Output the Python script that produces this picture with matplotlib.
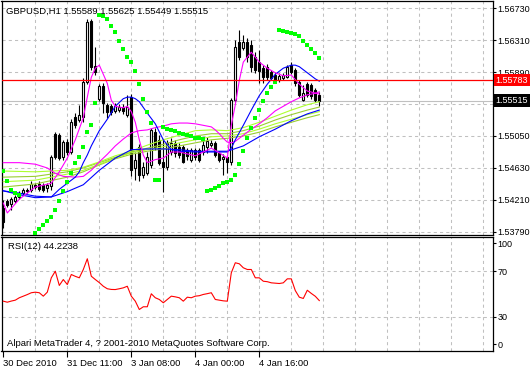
import matplotlib
matplotlib.use("Agg")
import matplotlib.pyplot as plt
import matplotlib.transforms as mtransforms
import numpy as np

plt.rcParams["font.family"] = ["Liberation Sans", "DejaVu Sans"]

# GBPUSD H1 bars, oldest first
opens = [1.54105, 1.54197, 1.54157, 1.54197, 1.54249, 1.54302, 1.54341, 1.54341, 1.54407, 1.54420,
         1.54407, 1.54368, 1.54394, 1.55076, 1.55063, 1.54774, 1.54971, 1.54840, 1.55299, 1.55260,
         1.55299, 1.55759, 1.56559, 1.55969, 1.55536, 1.55706, 1.55457, 1.55444, 1.55378, 1.55391,
         1.55431, 1.55326, 1.55562, 1.54630, 1.54906, 1.54538, 1.54564, 1.54669, 1.55103, 1.54998,
         1.54709, 1.54643, 1.54840, 1.54958, 1.54906, 1.54906, 1.54866, 1.54735, 1.54866, 1.54866,
         1.54840, 1.54906, 1.54932, 1.54958, 1.54827, 1.54748, 1.54774, 1.54709, 1.55523, 1.56284,
         1.56205, 1.56284, 1.56244, 1.56087, 1.56021, 1.55943, 1.55956, 1.55890, 1.55851, 1.55785,
         1.55811, 1.55824, 1.55982, 1.55916, 1.55759, 1.55523, 1.55732, 1.55719, 1.55654, 1.55589]
highs = [1.54210, 1.54223, 1.54249, 1.54276, 1.54328, 1.54368, 1.54368, 1.54459, 1.54433, 1.54459,
         1.54433, 1.54433, 1.54801, 1.55103, 1.55089, 1.54998, 1.55011, 1.55273, 1.55352, 1.55457,
         1.55811, 1.56586, 1.56586, 1.56218, 1.55732, 1.55746, 1.55483, 1.55470, 1.55483, 1.55470,
         1.55470, 1.55588, 1.55601, 1.54840, 1.54945, 1.54709, 1.54840, 1.55155, 1.55155, 1.55063,
         1.54998, 1.54998, 1.55024, 1.54998, 1.54958, 1.54932, 1.54892, 1.54892, 1.54892, 1.54892,
         1.54998, 1.55037, 1.54998, 1.54984, 1.54853, 1.54814, 1.54801, 1.55549, 1.56310, 1.56441,
         1.56376, 1.56336, 1.56310, 1.56153, 1.56179, 1.55982, 1.55995, 1.55916, 1.55890, 1.55877,
         1.55877, 1.55982, 1.56021, 1.55943, 1.55785, 1.55719, 1.55759, 1.55746, 1.55680, 1.55625]
lows = [1.53842, 1.54118, 1.54079, 1.54171, 1.54223, 1.54276, 1.54302, 1.54315, 1.54354, 1.54328,
        1.54315, 1.54315, 1.54341, 1.54748, 1.54735, 1.54735, 1.54801, 1.54814, 1.55155, 1.55234,
        1.55234, 1.55732, 1.55916, 1.55851, 1.55509, 1.55352, 1.55286, 1.55326, 1.55352, 1.55365,
        1.55339, 1.55299, 1.54525, 1.54472, 1.54459, 1.54499, 1.54538, 1.54630, 1.54866, 1.54669,
        1.54315, 1.54604, 1.54801, 1.54774, 1.54761, 1.54696, 1.54735, 1.54709, 1.54735, 1.54709,
        1.54801, 1.54827, 1.54906, 1.54774, 1.54709, 1.54538, 1.54564, 1.54669, 1.55496, 1.56048,
        1.56179, 1.56021, 1.55890, 1.55877, 1.55746, 1.55746, 1.55785, 1.55785, 1.55759, 1.55759,
        1.55785, 1.55811, 1.55864, 1.55706, 1.55562, 1.55509, 1.55562, 1.55536, 1.55496, 1.55449]
closes = [1.53921, 1.54144, 1.54223, 1.54249, 1.54302, 1.54341, 1.54328, 1.54420, 1.54381, 1.54354,
          1.54341, 1.54407, 1.54774, 1.54774, 1.54761, 1.54971, 1.54840, 1.55234, 1.55194, 1.55326,
          1.55759, 1.56546, 1.55956, 1.55890, 1.55706, 1.55483, 1.55365, 1.55365, 1.55444, 1.55431,
          1.55378, 1.55431, 1.54604, 1.54735, 1.54538, 1.54643, 1.54774, 1.55129, 1.54906, 1.54696,
          1.54643, 1.54958, 1.54958, 1.54827, 1.54801, 1.54709, 1.54788, 1.54866, 1.54774, 1.54735,
          1.54932, 1.54984, 1.54958, 1.54801, 1.54735, 1.54774, 1.54709, 1.55523, 1.56218, 1.56087,
          1.56284, 1.56087, 1.55956, 1.55916, 1.55903, 1.55824, 1.55824, 1.55811, 1.55785, 1.55837,
          1.55851, 1.55956, 1.55890, 1.55746, 1.55588, 1.55614, 1.55588, 1.55575, 1.55523, 1.55515]

# parabolic SAR (nan = hidden behind the bars)
nan = float("nan")
sar = [1.5459, 1.5446, 1.5434, 1.5430, 1.5428, nan, nan, nan, 1.5378, 1.5383,
       1.5388, 1.5394, 1.5399, 1.5408, 1.5420, 1.5433, 1.5444, 1.5456, 1.5469, 1.5478,
       1.5491, 1.5510, 1.5519, 1.5548, 1.5664, 1.5662, 1.5658, 1.5650, 1.5641, 1.5630,
       1.5619, 1.5609, 1.5602, 1.5590, 1.5573, 1.5554, 1.5537, 1.5522, 1.5447, 1.5447,
       1.5517, 1.5514, 1.5513, 1.5512, 1.5509, 1.5508, 1.5506, 1.5505, 1.5503, 1.5502,
       1.5501, 1.5433, 1.5434, 1.5437, 1.5439, 1.5443, 1.5445, 1.5447, 1.5454, 1.5468,
       1.5485, 1.5502, 1.5516, 1.5528, 1.5539, 1.5551, 1.5562, 1.5569, 1.5576, 1.5644,
       1.5643, 1.5641, 1.5640, 1.5639, 1.5636, 1.5630, 1.5624, 1.5619, 1.5614, 1.5607]

# moving averages (bar index, price)
fast_ma_idx = [0, 1, 4, 8, 12, 14, 16, 18, 20, 21, 22, 23, 24, 26, 27, 28, 30, 31, 32, 33, 34, 35,
               36, 38, 40, 42, 44, 48, 52, 54, 56, 57, 58, 59, 60, 62, 64, 66, 68, 70, 72, 74, 76, 79]
fast_ma = [1.5417, 1.5404, 1.5422, 1.5438, 1.5443, 1.5458, 1.5476, 1.5500, 1.5529, 1.5556, 1.5582,
           1.5594, 1.5598, 1.5574, 1.5552, 1.5544, 1.5542, 1.5544, 1.5537, 1.5523, 1.5500, 1.5480,
           1.5470, 1.5474, 1.5476, 1.5484, 1.5484, 1.5479, 1.5489, 1.5483, 1.5476, 1.5519, 1.5546,
           1.5578, 1.5602, 1.5615, 1.5602, 1.5594, 1.5588, 1.5584, 1.5585, 1.5573, 1.5564, 1.5560]

slow_ma_idx = [0, 4, 8, 11, 13, 15, 18, 20, 22, 24, 26, 28, 30, 32, 34, 36, 38, 40, 42, 44, 46,
               48, 50, 52, 53, 54, 55, 56, 57, 58, 60, 62, 64, 66, 68, 70, 72, 74, 76, 78, 79]
slow_ma = [1.5470, 1.5470, 1.5468, 1.5463, 1.5456, 1.5452, 1.5451, 1.5452, 1.5460, 1.5471, 1.5481,
           1.5492, 1.5501, 1.5509, 1.5512, 1.5513, 1.5516, 1.5518, 1.5521, 1.5522, 1.5522, 1.5521,
           1.5519, 1.5517, 1.5513, 1.5508, 1.5502, 1.5497, 1.5496, 1.5498, 1.5506, 1.5514, 1.5521,
           1.5529, 1.5538, 1.5544, 1.5550, 1.5555, 1.5559, 1.5561, 1.5563]

blue_fast_idx = [0, 4, 8, 12, 14, 16, 18, 19, 20, 21, 22, 23, 24, 26, 28, 30, 31, 32, 33, 34, 36,
                 38, 40, 42, 44, 48, 52, 56, 57, 58, 60, 62, 64, 66, 68, 70, 72, 73, 74, 76, 78, 79]
blue_fast = [1.5433, 1.5428, 1.5424, 1.5425, 1.5435, 1.5443, 1.5451, 1.5458, 1.5470, 1.5480, 1.5492,
             1.5502, 1.5512, 1.5527, 1.5544, 1.5554, 1.5556, 1.5556, 1.5554, 1.5550, 1.5535, 1.5521,
             1.5500, 1.5487, 1.5485, 1.5484, 1.5484, 1.5484, 1.5489, 1.5500, 1.5519, 1.5539, 1.5558,
             1.5573, 1.5586, 1.5594, 1.5598, 1.5598, 1.5596, 1.5588, 1.5580, 1.5577]

blue_slow_idx = [0, 4, 8, 12, 16, 20, 24, 28, 32, 36, 40, 44, 48, 52, 56, 60, 64, 68, 72, 76, 79]
blue_slow = [1.5433, 1.5430, 1.5426, 1.5425, 1.5432, 1.5441, 1.5460, 1.5476, 1.5487, 1.5488, 1.5488,
             1.5487, 1.5485, 1.5485, 1.5485, 1.5492, 1.5504, 1.5514, 1.5525, 1.5534, 1.5539]

lime_idx = [0, 8, 16, 20, 24, 28, 32, 36, 40, 44, 48, 52, 56, 60, 64, 68, 72, 76, 79]
lime_1 = [1.5459, 1.5458, 1.5460, 1.5464, 1.5471, 1.5479, 1.5485, 1.5493, 1.5500, 1.5506, 1.5512,
          1.5513, 1.5512, 1.5516, 1.5523, 1.5531, 1.5539, 1.5546, 1.5550]
lime_2 = [1.5451, 1.5452, 1.5458, 1.5463, 1.5470, 1.5477, 1.5484, 1.5489, 1.5494, 1.5500, 1.5505,
          1.5508, 1.5508, 1.5512, 1.5518, 1.5526, 1.5533, 1.5539, 1.5543]
lime_3 = [1.5445, 1.5447, 1.5455, 1.5460, 1.5468, 1.5476, 1.5483, 1.5487, 1.5491, 1.5496, 1.5500,
          1.5504, 1.5505, 1.5508, 1.5514, 1.5521, 1.5527, 1.5533, 1.5537]
lime_4 = [1.5438, 1.5442, 1.5451, 1.5458, 1.5467, 1.5475, 1.5481, 1.5485, 1.5488, 1.5492, 1.5496,
          1.5500, 1.5502, 1.5505, 1.5510, 1.5517, 1.5523, 1.5529, 1.5533]

rsi = [43.7, 42.8, 43.8, 44.6, 46.7, 48.1, 49.5, 51.1, 51.6, 51.1,
       48.1, 51.6, 64.2, 70.0, 57.5, 62.7, 58.3, 67.1, 65.5, 64.2,
       71.5, 80.9, 65.6, 62.7, 60.0, 56.8, 54.6, 54.0, 53.9, 54.6,
       55.4, 56.8, 48.1, 43.7, 36.4, 38.8, 38.8, 50.2, 46.7, 45.2,
       42.3, 45.2, 48.1, 47.5, 46.7, 43.7, 47.2, 46.7, 48.1, 48.5,
       49.6, 50.3, 51.1, 45.2, 44.6, 44.0, 43.7, 68.6, 77.4, 76.5,
       73.0, 71.5, 71.5, 64.2, 64.2, 61.2, 60.8, 59.8, 59.5, 59.2,
       59.8, 63.3, 63.3, 53.0, 47.2, 46.1, 53.3, 50.5, 48.0, 44.2238]

price_ticks = [1.53790, 1.54210, 1.54630, 1.55050, 1.55470, 1.55890, 1.56310, 1.56730]
time_ticks = [0, 16, 32, 48, 64]
time_labels = ["30 Dec 2010", "31 Dec 11:00", "3 Jan 08:00", "4 Jan 00:00", "4 Jan 16:00"]
hline_price = 1.55783
bid_price = 1.55515

W, H = 530, 368
FS = 6.8      # chart texts
FS_AX = 6.5   # right-hand scale labels (must fit in the 37 px margin)
GRID = dict(color="#C0C0C0", lw=0.75, ls=(0, (3, 3)), zorder=1)

fig = plt.figure(figsize=(W / 100, H / 100), dpi=100)
fig.patch.set_facecolor("white")
ax = fig.add_axes([1.5 / W, (H - 234.5) / H, 491 / W, 233.5 / H])
ax2 = fig.add_axes([1.5 / W, (H - 351) / H, 491 / W, 114 / H])

for a in (ax, ax2):
    for s in a.spines.values():
        s.set_linewidth(0.9)
        s.set_color("black")
    a.set_xlim(-0.45, 122.3)
    for gx in range(8, 121, 8):
        a.axvline(gx, **GRID)

# ---- main price window
ax.set_ylim(1.53757, 1.56822)
for p in price_ticks:
    ax.axhline(p, **GRID)
ax.axhline(bid_price, color="#C0C0C0", lw=0.8, zorder=1.5)

x = np.arange(len(opens))
o, h, l, c = (np.array(v) for v in (opens, highs, lows, closes))
up = c >= o
ax.vlines(x, l, h, color="black", lw=0.8, zorder=3)
ax.bar(x[up], c[up] - o[up], bottom=o[up], width=0.45,
       facecolor="white", edgecolor="black", lw=0.8, zorder=4)
ax.bar(x[~up], o[~up] - c[~up], bottom=c[~up], width=0.45,
       facecolor="black", edgecolor="black", lw=0.8, zorder=4)

ax.plot(lime_idx, lime_4, color="#9ACD32", lw=0.8, zorder=5)
ax.plot(lime_idx, lime_3, color="#ADFF2F", lw=0.8, zorder=5)
ax.plot(lime_idx, lime_2, color="#9ACD32", lw=0.8, zorder=5)
ax.plot(lime_idx, lime_1, color="#ADFF2F", lw=0.8, zorder=5)
ax.plot(blue_slow_idx, blue_slow, color="#0000FF", lw=0.8, zorder=5)
ax.plot(slow_ma_idx, slow_ma, color="#FF00FF", lw=0.8, zorder=5)
ax.plot(blue_fast_idx, blue_fast, color="#0000FF", lw=0.8, zorder=5)
ax.plot(fast_ma_idx, fast_ma, color="#FF00FF", lw=0.8, zorder=5)
ax.plot(x, sar, ls="none", marker="s", ms=2.3, mew=0, color="#00FF00", zorder=6)

ax.axhline(hline_price, color="red", lw=0.9, zorder=7)

ax.yaxis.tick_right()
ax.set_yticks(price_ticks)
ax.set_yticklabels([f"{p:.5f}" for p in price_ticks])
ax.tick_params(axis="y", direction="out", length=2.5, width=0.8, pad=1.0, labelsize=FS_AX)
ax.tick_params(axis="x", length=0, labelbottom=False)
ax.set_xticks([])

tr = mtransforms.blended_transform_factory(ax.transAxes, ax.transData)
for val, col in ((hline_price, "red"), (bid_price, "black")):
    ax.text(1.0065, val, f"{val:.5f}", transform=tr, ha="left", va="center",
            fontsize=FS_AX, color="white", clip_on=False, zorder=10,
            bbox=dict(boxstyle="square,pad=0.2", fc=col, ec="none"))

fig.text(6.5 / W, 1 - 11 / H,
         f"GBPUSD,H1 {opens[-1]:.5f} {highs[-1]:.5f} {lows[-1]:.5f} {closes[-1]:.5f}",
         fontsize=FS, va="center", ha="left")

# ---- RSI window
ax2.set_ylim(0, 100)
for lv in (30, 70):
    ax2.axhline(lv, **GRID)
ax2.plot(x, rsi, color="red", lw=0.8, zorder=4)
ax2.yaxis.tick_right()
ax2.set_yticks([5.9, 30, 70, 94.5])
ax2.set_yticklabels(["0", "30", "70", "100"])
ax2.tick_params(axis="y", direction="out", length=2.5, width=0.8, pad=1.0, labelsize=FS_AX)
ax2.set_xticks(time_ticks)
ax2.set_xticklabels(time_labels)
ax2.tick_params(axis="x", direction="out", length=4, width=0.8, pad=1.5, labelsize=FS)
for lab in ax2.get_xticklabels():
    lab.set_horizontalalignment("left")

ax2.text(6.5 / 491, 1 - 9.5 / 114, f"RSI(12) {rsi[-1]:.4f}", transform=ax2.transAxes,
         fontsize=FS, va="center", ha="left")
ax2.text(5 / 491, 1 - 106 / 114, "Alpari MetaTrader 4, ? 2001-2010 MetaQuotes Software Corp.",
         transform=ax2.transAxes, fontsize=FS, va="center", ha="left")

fig.savefig("out.png", dpi=100)
